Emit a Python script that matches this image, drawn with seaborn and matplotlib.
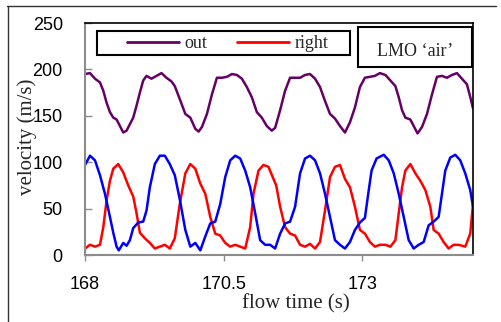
import numpy as np
import pandas as pd
import seaborn as sns
import matplotlib.pyplot as plt
from matplotlib.lines import Line2D
from matplotlib.patches import Rectangle

# ---------------- data ----------------
t_out = [168.00, 168.09, 168.18, 168.27, 168.33, 168.39, 168.45, 168.51, 168.57, 168.63,
         168.69, 168.75, 168.81, 168.87, 168.93, 168.99, 169.05, 169.11, 169.20, 169.29,
         169.38, 169.47, 169.56, 169.62, 169.71, 169.81, 169.90, 169.99, 170.05, 170.11,
         170.20, 170.29, 170.38, 170.47, 170.56, 170.65, 170.74, 170.83, 170.92, 171.01,
         171.10, 171.19, 171.28, 171.37, 171.43, 171.52, 171.61, 171.70, 171.79, 171.88,
         171.97, 172.06, 172.15, 172.24, 172.33, 172.42, 172.51, 172.60, 172.69, 172.78,
         172.87, 172.96, 173.05, 173.14, 173.23, 173.32, 173.42, 173.51, 173.60, 173.66,
         173.72, 173.78, 173.87, 173.93, 174.00, 174.08, 174.17, 174.26, 174.35, 174.44,
         174.53, 174.62, 174.71, 174.80, 174.89, 174.96, 175.00]
v_out = [195, 196, 190, 186, 177, 164, 154, 148, 146, 139,
         132, 134, 141, 148, 161, 175, 188, 193, 190, 193,
         196, 191, 187, 182, 168, 152, 148, 136, 133, 138,
         152, 173, 191, 191, 192, 195, 194, 190, 181, 170,
         154, 148, 139, 134, 137, 156, 177, 191, 191, 191,
         194, 195, 190, 181, 166, 152, 147, 139, 132, 143,
         159, 181, 191, 192, 193, 196, 194, 188, 182, 170,
         156, 148, 146, 139, 131, 138, 152, 173, 192, 193,
         191, 194, 196, 190, 184, 168, 158]

t_right = [168.00, 168.09, 168.18, 168.27, 168.33, 168.39, 168.45, 168.51, 168.60, 168.69,
           168.78, 168.87, 168.93, 168.99, 169.08, 169.17, 169.26, 169.35, 169.44, 169.53,
           169.62, 169.71, 169.81, 169.90, 169.99, 170.08, 170.17, 170.26, 170.35, 170.44,
           170.53, 170.62, 170.71, 170.80, 170.89, 170.98, 171.04, 171.13, 171.22, 171.31,
           171.40, 171.45, 171.52, 171.61, 171.70, 171.79, 171.88, 171.97, 172.06, 172.15,
           172.24, 172.33, 172.42, 172.51, 172.60, 172.69, 172.78, 172.87, 172.96, 173.05,
           173.14, 173.23, 173.32, 173.42, 173.51, 173.60, 173.66, 173.72, 173.78, 173.87,
           173.96, 174.05, 174.14, 174.23, 174.29, 174.38, 174.47, 174.56, 174.65, 174.74,
           174.86, 174.95, 175.00]
v_right = [7, 11, 9, 11, 30, 59, 80, 93, 98, 89,
           75, 63, 45, 24, 18, 13, 7, 9, 11, 7,
           18, 55, 88, 98, 93, 77, 66, 41, 23, 21,
           13, 9, 11, 9, 7, 30, 66, 91, 97, 95,
           82, 75, 52, 30, 23, 21, 11, 9, 12, 7,
           14, 48, 84, 95, 97, 82, 73, 52, 27, 23,
           14, 9, 11, 11, 9, 16, 45, 73, 91, 98,
           88, 80, 70, 52, 27, 23, 14, 7, 11, 11,
           9, 23, 55]

t_left = [168.00, 168.09, 168.18, 168.27, 168.36, 168.45, 168.51, 168.57, 168.61, 168.69,
          168.75, 168.81, 168.87, 168.96, 169.05, 169.11, 169.17, 169.26, 169.35, 169.44,
          169.53, 169.62, 169.71, 169.81, 169.90, 169.99, 170.08, 170.17, 170.26, 170.35,
          170.44, 170.53, 170.62, 170.71, 170.80, 170.89, 170.98, 171.07, 171.16, 171.25,
          171.34, 171.43, 171.52, 171.61, 171.70, 171.79, 171.88, 171.97, 172.06, 172.15,
          172.24, 172.33, 172.42, 172.51, 172.60, 172.69, 172.78, 172.87, 172.96, 173.05,
          173.11, 173.17, 173.26, 173.39, 173.48, 173.57, 173.66, 173.75, 173.84, 173.93,
          174.02, 174.11, 174.20, 174.29, 174.38, 174.44, 174.50, 174.59, 174.68, 174.77,
          174.86, 174.95, 175.00]
v_left = [97, 107, 102, 86, 66, 41, 24, 9, 5, 13,
          10, 16, 29, 35, 36, 48, 73, 98, 107, 107,
          98, 86, 60, 27, 9, 13, 5, 20, 34, 36,
          55, 84, 102, 107, 104, 91, 73, 45, 16, 11,
          11, 7, 23, 34, 36, 52, 88, 104, 107, 102,
          88, 66, 41, 16, 11, 7, 14, 27, 35, 40,
          66, 91, 104, 108, 102, 88, 66, 41, 16, 7,
          11, 14, 32, 36, 41, 66, 91, 105, 108, 102,
          88, 70, 52]

series_names = ["out", "right", "left"]
series_colors = ["#660066", "#FF0000", "#0000FF"]
x_ticks = [168, 170.5, 173]
y_ticks = [0, 50, 100, 150, 200, 250]
annotation = "LMO \u2018air\u2019"

df = pd.concat([
    pd.DataFrame({"t": t_out, "v": v_out, "series": "out"}),
    pd.DataFrame({"t": t_right, "v": v_right, "series": "right"}),
    pd.DataFrame({"t": t_left, "v": v_left, "series": "left"}),
], ignore_index=True)

# ---------------- figure ----------------
sns.set_theme(style="white")
plt.rcParams["font.family"] = ["Liberation Sans", "DejaVu Sans"]

W, H = 501, 322
fig = plt.figure(figsize=(W / 100, H / 100), dpi=100)
fig.patch.set_facecolor("white")

def fx(px):
    return px / W

def fy(py):
    return 1 - py / H

ax = fig.add_axes([fx(85), fy(255), fx(473) - fx(85), fy(23) - fy(255)])

sns.lineplot(data=df, x="t", y="v", hue="series", hue_order=series_names,
             palette=dict(zip(series_names, series_colors)),
             estimator=None, sort=False, legend=False, linewidth=1.8, ax=ax)
for ln in ax.get_lines():
    ln.set_solid_joinstyle("round")
    ln.set_solid_capstyle("round")

ax.set_xlim(168, 175)
ax.set_ylim(0, 250)
ax.set_xticks(x_ticks)
ax.set_xticklabels(["168", "170.5", "173"])
ax.set_yticks(y_ticks)
ax.set_xlabel("")
ax.set_ylabel("")

for side in ["left", "bottom"]:
    ax.spines[side].set_color("#8c8c8c")
    ax.spines[side].set_linewidth(1.5)
for side in ["top", "right"]:
    ax.spines[side].set_color("black")
    ax.spines[side].set_linewidth(1.2)
    ax.spines[side].set_visible(True)

ax.tick_params(axis="x", direction="out", length=4, width=1, color="#8c8c8c",
               pad=11, labelsize=13, labelcolor="black", bottom=True)
ax.tick_params(axis="y", direction="in", length=5, width=1, color="#8c8c8c",
               pad=16, labelsize=13, labelcolor="black", left=True)

# axis titles
serif = ["Liberation Serif", "DejaVu Serif"]
fig.text(fx(296), fy(308), "flow time (s)", ha="center", va="baseline",
         fontsize=15, family=serif)
fig.text(fx(27.5), fy(137), "velocity (m/s)", ha="center", va="center",
         rotation=90, fontsize=15, family=serif)

# legend (box + entries)
fig.patches.append(Rectangle((fx(97), fy(55)), fx(350) - fx(97), fy(31) - fy(55),
                             transform=fig.transFigure, fill=True, facecolor="white",
                             edgecolor="black", linewidth=1.5, zorder=5))
handles = [Line2D([0], [0], color=series_colors[0], lw=2),
           Line2D([0], [0], color=series_colors[1], lw=2)]
leg = fig.legend(handles, series_names[:2], loc="center left",
                 bbox_to_anchor=(fx(127), fy(43.5)), ncol=2, frameon=False,
                 prop={"family": serif, "size": 13}, handlelength=2.9,
                 handletextpad=0.3, columnspacing=1.6, borderpad=0,
                 borderaxespad=0)
leg.set_zorder(6)

# annotation box
fig.patches.append(Rectangle((fx(358), fy(67)), fx(472) - fx(358), fy(27) - fy(67),
                             transform=fig.transFigure, fill=True, facecolor="white",
                             edgecolor="black", linewidth=1.5, zorder=5))
fig.text(fx(415), fy(56.5), annotation, ha="center", va="baseline",
         fontsize=13, family=serif, zorder=6)

# outer frame (top and left only, as cropped in the reference)
fig.add_artist(Line2D([fx(7), fx(496)], [fy(5.5), fy(5.5)], transform=fig.transFigure,
                      color="#333333", lw=1))
fig.add_artist(Line2D([fx(7.5), fx(7.5)], [fy(5.5), fy(322)], transform=fig.transFigure,
                      color="#333333", lw=1))

fig.savefig("out.png", dpi=100)
